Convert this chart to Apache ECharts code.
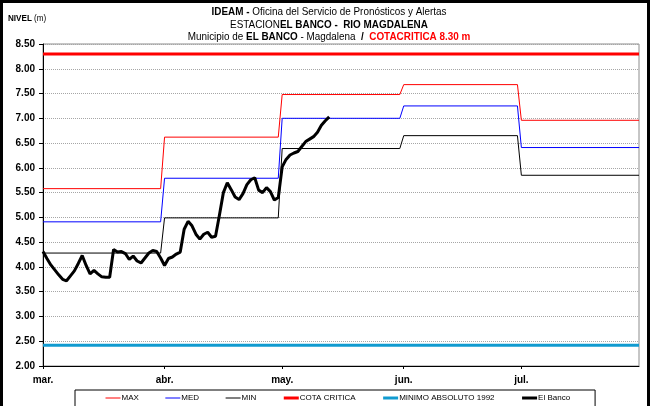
<!DOCTYPE html>
<html>
<head>
<meta charset="utf-8">
<title>IDEAM - El Banco</title>
<script src="https://cdn.jsdelivr.net/npm/echarts@6/dist/echarts.min.js"></script>
<style>
  html, body { margin: 0; padding: 0; background: #fff; }
  #chart { width: 654px; height: 406px; }
</style>
</head>
<body>
<div id="chart"></div>
<script>
// months shown on the x axis (one category per day, Mar 1 .. Jul 31)
const monthNames = ['mar.', 'abr.', 'may.', 'jun.', 'jul.'];
const monthDays = [31, 30, 31, 30, 31];

// monthly reference levels (m)
const maxLevel = [5.58, 6.62, 7.48, 7.68, 6.96];
const medLevel = [4.91, 5.79, 7.00, 7.25, 6.41];
const minLevel = [4.28, 4.99, 6.39, 6.65, 5.85];

const cotaCritica = 8.30;
const minimoAbsoluto = 2.42;

// daily level El Banco, from Mar 1
const elBanco = [
  4.31, 4.17, 4.04, 3.94, 3.84, 3.75, 3.72, 3.82, 3.92, 4.07,
  4.23, 4.03, 3.86, 3.93, 3.86, 3.80, 3.79, 3.79, 4.35, 4.30,
  4.31, 4.27, 4.15, 4.22, 4.12, 4.08, 4.18, 4.28, 4.33, 4.31,
  4.18, 4.03, 4.17, 4.20, 4.26, 4.30, 4.76, 4.92, 4.83, 4.66,
  4.56, 4.66, 4.70, 4.60, 4.62, 5.05, 5.50, 5.70, 5.56, 5.41,
  5.36, 5.48, 5.66, 5.76, 5.80, 5.55, 5.50, 5.60, 5.52, 5.35,
  5.40, 6.02, 6.17, 6.26, 6.30, 6.33, 6.43, 6.53, 6.58, 6.63,
  6.72, 6.86, 6.95, 7.03
];

const yTicks = { min: 2.0, max: 8.5, step: 0.5 };

const FONT = "'Liberation Sans Narrow', 'Arial Narrow', 'Liberation Sans', Arial, sans-serif";
const FONT_AXIS = "'Liberation Sans', Arial, sans-serif";

// build day categories and month start indices
const days = [];
const monthStart = {};
let idx = 0;
monthDays.forEach((n, m) => {
  monthStart[idx] = monthNames[m];
  for (let d = 1; d <= n; d++) {
    days.push((m + 3) + '-' + d);
    idx++;
  }
});
const lastDay = days.length - 1;

// step line from monthly values: first and last day of each month
function monthly(values) {
  const pts = [];
  let start = 0;
  values.forEach((v, m) => {
    pts.push([start, v]);
    pts.push([start + monthDays[m] - 1, v]);
    start += monthDays[m];
  });
  return pts;
}

const isMonthStart = (i) => monthStart[i] !== undefined;

const chart = echarts.init(document.getElementById('chart'));

const line = (name, data, color, width, z) => ({
  name: name,
  type: 'line',
  data: data,
  symbol: 'none',
  smooth: false,
  lineStyle: { color: color, width: width },
  itemStyle: { color: color },
  z: z,
  silent: true
});

const rich = {
  b: { fontFamily: FONT, fontSize: 11, fontWeight: 'bold', fill: '#000' },
  n: { fontFamily: FONT, fontSize: 11, fill: '#000' },
  r: { fontFamily: FONT, fontSize: 11, fontWeight: 'bold', fill: '#ff0000' }
};

const titleLine = (text, y) => ({
  type: 'text', silent: true,
  x: 329, y: y, scaleX: 0.9,
  style: { x: 0, y: 0, align: 'center', verticalAlign: 'middle', text: text, rich: rich }
});

const legendItem = (name, width) => ({ name: name, lineStyle: { width: width } });

chart.setOption({
  animation: false,
  backgroundColor: '#ffffff',
  grid: {
    left: 43, right: 15, top: 44, bottom: 40,
    show: true, borderColor: '#8c8c8c', borderWidth: 1
  },
  graphic: [
    {
      type: 'rect', silent: true, z: 100,
      shape: { x: 1.5, y: 1.5, width: 647, height: 430 },
      style: { fill: 'none', stroke: '#000', lineWidth: 3 }
    },
    titleLine('{b|IDEAM - }{n|Oficina del Servicio de Pronósticos y Alertas}', 12),
    titleLine('{n|ESTACION}{b|EL BANCO -  RIO MAGDALENA}', 24.5),
    titleLine('{n|Municipio de }{b|EL BANCO}{n| - Magdalena  }{b|/  }{r|COTACRITICA 8.30 m}', 37),
    {
      type: 'text', silent: true,
      x: 8, y: 19, scaleX: 0.9,
      style: {
        x: 0, y: 0, align: 'left', verticalAlign: 'middle',
        text: '{b|NIVEL }{n|(m)}',
        rich: {
          b: { fontFamily: FONT, fontSize: 9, fontWeight: 'bold', fill: '#000' },
          n: { fontFamily: FONT, fontSize: 9, fill: '#000' }
        }
      }
    }
  ],
  legend: {
    left: 75, top: 390,
    padding: [4, 25, 6, 30],
    itemGap: 26,
    itemWidth: 15,
    itemHeight: 8,
    borderColor: '#000',
    borderWidth: 1,
    borderRadius: 0,
    selectedMode: false,
    itemStyle: { opacity: 0, borderWidth: 0 },
    textStyle: { fontFamily: FONT, fontSize: 8, color: '#000', padding: [0, 0, 0, -4] },
    data: [
      legendItem('MAX', 1),
      legendItem('MED', 1),
      legendItem('MIN', 1),
      legendItem('COTA CRITICA', 3),
      legendItem('MINIMO ABSOLUTO 1992', 3),
      legendItem('El Banco', 3)
    ]
  },
  xAxis: {
    type: 'category',
    data: days,
    boundaryGap: false,
    axisLine: { lineStyle: { color: '#000', width: 1 } },
    axisTick: { length: 3, interval: (i) => isMonthStart(i), lineStyle: { color: '#000' } },
    axisLabel: {
      interval: (i) => isMonthStart(i),
      formatter: (v, i) => monthStart[i] || '',
      fontFamily: FONT_AXIS, fontSize: 10, fontWeight: 'bold', color: '#000',
      margin: 9
    },
    splitLine: { show: false }
  },
  yAxis: {
    type: 'value',
    min: yTicks.min, max: yTicks.max, interval: yTicks.step,
    axisLine: { show: true, lineStyle: { color: '#000', width: 1 } },
    axisTick: { show: true, length: 4, lineStyle: { color: '#000' } },
    axisLabel: {
      formatter: (v) => v.toFixed(2),
      fontFamily: FONT_AXIS, fontSize: 10, fontWeight: 'bold', color: '#000',
      margin: 8
    },
    splitLine: { show: true, lineStyle: { color: '#a6a6a6', type: [1, 1], width: 1 } }
  },
  series: [
    line('MAX', monthly(maxLevel), '#ff0000', 1, 2),
    line('MED', monthly(medLevel), '#0000ff', 1, 2),
    line('MIN', monthly(minLevel), '#000000', 1, 2),
    line('COTA CRITICA', [[0, cotaCritica], [lastDay, cotaCritica]], '#ff0000', 3, 3),
    line('MINIMO ABSOLUTO 1992', [[0, minimoAbsoluto], [lastDay, minimoAbsoluto]], '#119bd0', 3, 3),
    line('El Banco', elBanco, '#000000', 3, 4)
  ]
});
</script>
</body>
</html>
